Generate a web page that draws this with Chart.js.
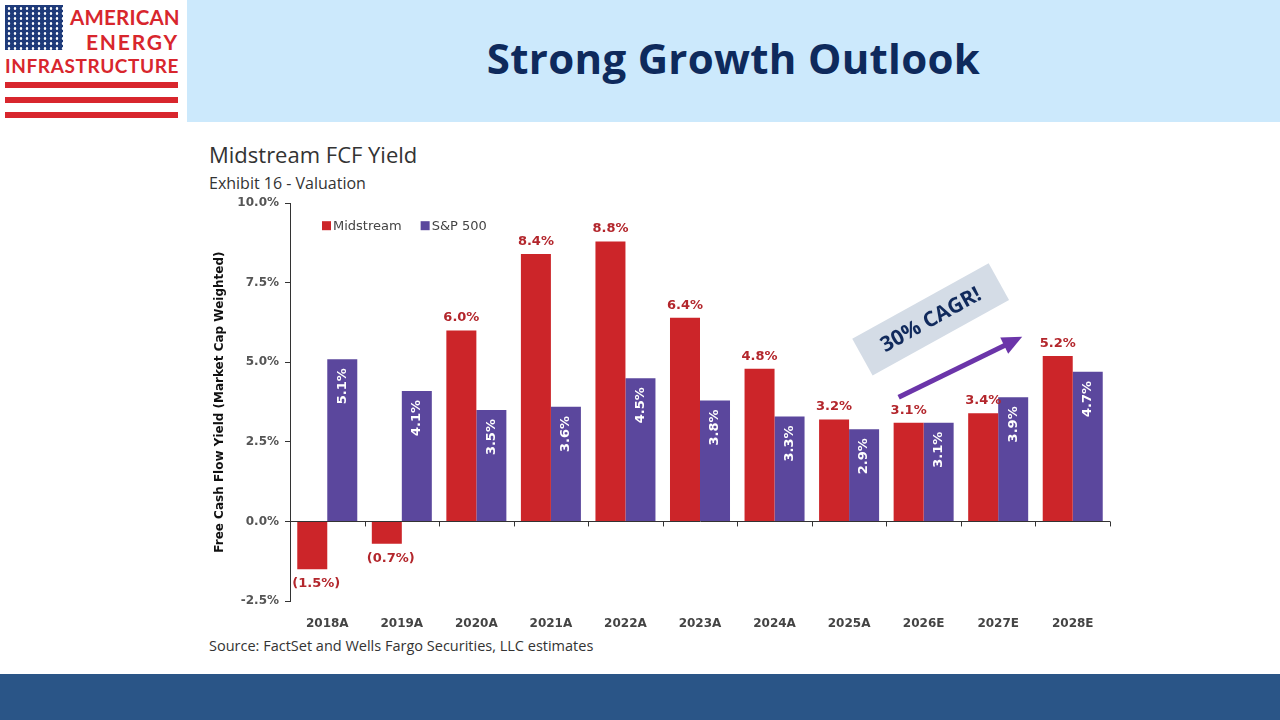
<!DOCTYPE html>
<html>
<head>
<meta charset="utf-8">
<script src="https://cdn.jsdelivr.net/npm/chart.js@4"></script>
<style>
  html, body { margin: 0; padding: 0; }
  body { width: 1280px; height: 720px; position: relative; overflow: hidden; background: #fff; font-family: "Open Sans", sans-serif; }
  #banner { position: absolute; left: 187px; top: 0; width: 1093px; height: 122px; background: #cce9fc; }
  #banner h1 { margin: 0; position: absolute; left: 0; right: 0; top: 29px; text-align: center; font: 700 42px "Open Sans", sans-serif; color: #0e2a5c; letter-spacing: 0.3px; }
  #footer { position: absolute; left: 0; top: 674px; width: 1280px; height: 46px; background: #2a5587; }
  #logo { position: absolute; left: 0; top: 0; width: 187px; height: 124px; }
  #flag { position: absolute; left: 5px; top: 5px; width: 58px; height: 45px; background-color: #1f3b7a;
          background-image: radial-gradient(circle, #ffffff 1px, transparent 1.6px);
          background-size: 6px 5px; background-position: 1px 1px; }
  .lg { position: absolute; font: 700 21px "Lato", sans-serif; color: #d8262d; line-height: 1; white-space: nowrap; }
  .stripe { position: absolute; left: 5px; width: 173px; height: 6px; background: #d8262d; }
  .txt { position: absolute; color: #333; white-space: nowrap; }
  #chartbox { position: absolute; left: 200px; top: 190px; width: 930px; height: 470px; }
</style>
</head>
<body>
<div id="banner"><h1>Strong Growth Outlook</h1></div>
<div id="logo">
  <div id="flag"></div>
  <div class="lg" style="left:70px;top:7px;font-size:20.5px;letter-spacing:0.2px;">AMERICAN</div>
  <div class="lg" style="left:86px;top:31px;letter-spacing:1.8px;">ENERGY</div>
  <div class="lg" style="left:5px;top:56px;font-size:19px;letter-spacing:0.6px;">INFRASTRUCTURE</div>
  <div class="stripe" style="top:82px;"></div>
  <div class="stripe" style="top:97px;"></div>
  <div class="stripe" style="top:112px;"></div>
</div>
<div id="footer"></div>

<div class="txt" style="left:209px;top:139px;font-size:22px;">Midstream FCF Yield</div>
<div class="txt" style="left:209px;top:172px;font-size:16px;">Exhibit 16 - Valuation</div>
<div class="txt" style="left:209px;top:636px;font-size:14.5px;">Source: FactSet and Wells Fargo Securities, LLC estimates</div>

<div id="chartbox"><canvas id="fcf-chart"></canvas></div>

<script>
const years = ['2018A', '2019A', '2020A', '2021A', '2022A', '2023A', '2024A', '2025A', '2026E', '2027E', '2028E'];
const midstream = [-1.5, -0.7, 6.0, 8.4, 8.8, 6.4, 4.8, 3.2, 3.1, 3.4, 5.2];
const sp500 = [5.1, 4.1, 3.5, 3.6, 4.5, 3.8, 3.3, 2.9, 3.1, 3.9, 4.7];
const yTicks = [-2.5, 0, 2.5, 5, 7.5, 10];
const seriesNames = ['Midstream', 'S&P 500'];
const cagrText = '30% CAGR!';

const RED = '#cc2529';
const PURPLE = '#5b479d';
const LABEL_RED = '#b3262c';
const AXIS = '#333333';
const DV = '"DejaVu Sans", Verdana, sans-serif';

function pct(v) {
    return v < 0 ? '(' + Math.abs(v).toFixed(1) + '%)' : v.toFixed(1) + '%';
}

/* nhãn số trên cột, vạch chia trục x ở mức 0, chú thích và mũi tên CAGR */
const extrasPlugin = {
    id: 'extras',
    afterDatasetsDraw(chart) {
        const ctx = chart.ctx;
        const x = chart.scales.x, y = chart.scales.y;
        const area = chart.chartArea;
        const zero = y.getPixelForValue(0);
        const half = (x.getPixelForValue(1) - x.getPixelForValue(0)) / 2;

        // vạch chia dưới đường 0
        ctx.save();
        ctx.strokeStyle = AXIS;
        ctx.lineWidth = 1;
        for (let i = 1; i <= years.length; i++) {
            const px = Math.round(x.getPixelForValue(i) - half) + 0.5;
            ctx.beginPath();
            ctx.moveTo(px, zero);
            ctx.lineTo(px, zero + 5);
            ctx.stroke();
        }
        ctx.restore();

        // nhãn Midstream
        const m0 = chart.getDatasetMeta(0);
        ctx.save();
        ctx.font = 'bold 13px ' + DV;
        ctx.fillStyle = LABEL_RED;
        ctx.textAlign = 'center';
        m0.data.forEach((bar, i) => {
            const v = midstream[i];
            if (v < 0) {
                ctx.textBaseline = 'top';
                ctx.fillText(pct(v), bar.x + 4, bar.y + 8);
            } else {
                ctx.textBaseline = 'bottom';
                ctx.fillText(pct(v), bar.x, bar.y - 6);
            }
        });
        ctx.restore();

        // nhãn S&P 500 (xoay dọc, chữ trắng)
        const m1 = chart.getDatasetMeta(1);
        ctx.save();
        ctx.font = 'bold 13px ' + DV;
        ctx.fillStyle = '#ffffff';
        m1.data.forEach((bar, i) => {
            ctx.save();
            ctx.translate(bar.x, bar.y + 9);
            ctx.rotate(-Math.PI / 2);
            ctx.textAlign = 'right';
            ctx.textBaseline = 'middle';
            ctx.fillText(pct(sp500[i]), 0, 0);
            ctx.restore();
        });
        ctx.restore();

        // chú thích
        ctx.save();
        ctx.font = '13px ' + DV;
        ctx.textBaseline = 'middle';
        let lx = area.left + 32;
        const ly = area.top + 23;
        chart.data.datasets.forEach(ds => {
            ctx.fillStyle = ds.backgroundColor;
            ctx.fillRect(lx, ly - 5, 9, 9);
            ctx.fillStyle = '#444';
            ctx.fillText(ds.label, lx + 11, ly);
            lx += ctx.measureText(ds.label).width + 30;
        });
        ctx.restore();

        // mũi tên CAGR
        const c26 = x.getPixelForValue(8);
        const c27 = x.getPixelForValue(9);
        const sx = c26 - 25, sy = y.getPixelForValue(3.9);
        const ex = c27 + 24, ey = y.getPixelForValue(5.8);
        const ang = Math.atan2(ey - sy, ex - sx);
        ctx.save();
        ctx.strokeStyle = '#6b35a9';
        ctx.fillStyle = '#6b35a9';
        ctx.lineWidth = 5;
        ctx.beginPath();
        ctx.moveTo(sx, sy);
        ctx.lineTo(ex - 14 * Math.cos(ang), ey - 14 * Math.sin(ang));
        ctx.stroke();
        ctx.beginPath();
        ctx.moveTo(ex, ey);
        ctx.lineTo(ex - 20 * Math.cos(ang) + 9 * Math.sin(ang), ey - 20 * Math.sin(ang) - 9 * Math.cos(ang));
        ctx.lineTo(ex - 20 * Math.cos(ang) - 9 * Math.sin(ang), ey - 20 * Math.sin(ang) + 9 * Math.cos(ang));
        ctx.closePath();
        ctx.fill();
        ctx.restore();

        // hộp "30% CAGR!"
        ctx.save();
        ctx.translate(c26 + 7, y.getPixelForValue(6.35));
        ctx.rotate(-29 * Math.PI / 180);
        ctx.fillStyle = '#d4dce6';
        ctx.fillRect(-78, -21, 156, 42);
        ctx.fillStyle = '#112a5c';
        ctx.font = 'bold 21px "Open Sans", sans-serif';
        ctx.textAlign = 'center';
        ctx.textBaseline = 'middle';
        ctx.fillText(cagrText, 0, 1);
        ctx.restore();
    }
};

function drawFcfChart() {
    const canvas = document.getElementById('fcf-chart');
    if (!canvas) return;
    const ctx = canvas.getContext('2d');

    new Chart(ctx, {
        type: 'bar',
        data: {
            labels: years,
            datasets: [
                { label: seriesNames[0], data: midstream, backgroundColor: RED, borderWidth: 0 },
                { label: seriesNames[1], data: sp500, backgroundColor: PURPLE, borderWidth: 0 }
            ]
        },
        options: {
            responsive: true,
            maintainAspectRatio: false,
            animation: false,
            layout: { padding: { left: 0, right: 20, top: 12, bottom: 0 } },
            datasets: { bar: { categoryPercentage: 0.805, barPercentage: 1.0 } },
            scales: {
                x: {
                    grid: { display: false },
                    border: { display: false },
                    ticks: { color: '#444', font: { family: DV, size: 12, weight: 'bold' }, padding: 8 },
                    afterFit: s => { s.height = 59; }
                },
                y: {
                    min: -2.5, max: 10,
                    afterBuildTicks: s => { s.ticks = yTicks.map(v => ({ value: v })); },
                    ticks: {
                        color: '#555', padding: 6,
                        font: { family: DV, size: 12, weight: 'bold' },
                        callback: v => Number(v).toFixed(1) + '%'
                    },
                    grid: {
                        drawOnChartArea: true,
                        drawTicks: true,
                        tickLength: 5,
                        tickColor: AXIS,
                        color: c => (c.tick && c.tick.value === 0 ? AXIS : 'rgba(0,0,0,0)')
                    },
                    border: { display: true, color: AXIS, width: 1 },
                    title: {
                        display: true,
                        text: 'Free Cash Flow Yield (Market Cap Weighted)',
                        color: '#111',
                        font: { family: DV, size: 12, weight: 'bold' },
                        padding: { top: 13, bottom: 0 }
                    },
                    afterFit: s => { s.width = 90; }
                }
            },
            plugins: { legend: { display: false }, tooltip: { enabled: false } }
        },
        plugins: [extrasPlugin]
    });
}

drawFcfChart();
</script>
</body>
</html>
